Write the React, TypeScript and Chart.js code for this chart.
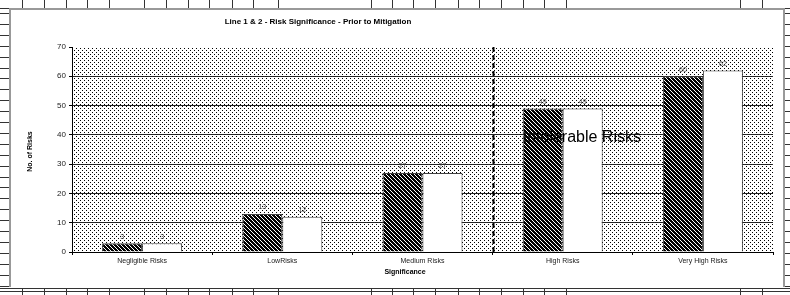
import React, { useEffect, useRef } from "react";
import { Chart, registerables } from "chart.js";

Chart.register(...registerables);

const categories = ["Negligible Risks", "LowRisks", "Medium Risks", "High Risks", "Very High Risks"];
const line1Values = [3, 13, 27, 49, 60];
const line2Values = [3, 12, 27, 49, 62];
const yTicks = [0, 10, 20, 30, 40, 50, 60, 70];
const chartTitle = "Line 1 & 2 - Risk Significance - Prior to Mitigation";
const yTitle = "No. of Risks";
const xTitle = "Significance";
const zoneLabel = "Intolerable Risks";

const sheetCols = [22, 44, 66, 87, 109, 144, 166, 188, 209, 232, 253, 278, 371, 392, 413, 435, 458, 479, 501, 523, 544, 566, 740, 762];

function makePattern(kind: string): CanvasPattern | string {
  const c = document.createElement("canvas");
  c.width = 4;
  c.height = 4;
  const g = c.getContext("2d");
  if (!g) return "#888";
  if (kind === "dots") {
    g.fillStyle = "#ffffff";
    g.fillRect(0, 0, 4, 4);
    g.fillStyle = "#000000";
    g.fillRect(0, 0, 1, 1);
    g.fillRect(2, 2, 1, 1);
  } else {
    g.fillStyle = "#000000";
    g.fillRect(0, 0, 4, 4);
    g.fillStyle = "#ffffff";
    for (let i = 0; i < 4; i++) g.fillRect(i, i, 1, 1);
  }
  const p = g.createPattern(c, "repeat");
  return p || "#888";
}

export default function App() {
  const ref = useRef<HTMLCanvasElement | null>(null);

  useEffect(() => {
    if (!ref.current) return;
    const dots = makePattern("dots");
    const hatch = makePattern("hatch");

    const bgPlugin = {
      id: "sheetBg",
      beforeDraw(chart: any) {
        const ctx = chart.ctx as CanvasRenderingContext2D;
        const W = chart.width;
        const H = chart.height;
        ctx.save();
        ctx.fillStyle = "#ffffff";
        ctx.fillRect(0, 0, W, H);
        ctx.strokeStyle = "#333";
        ctx.lineWidth = 1;
        // top strip
        ctx.beginPath();
        ctx.moveTo(0, 8.5);
        ctx.lineTo(W, 8.5);
        sheetCols.forEach((x) => {
          ctx.moveTo(x + 0.5, 0);
          ctx.lineTo(x + 0.5, 8);
          ctx.moveTo(x + 0.5, 288);
          ctx.lineTo(x + 0.5, H);
        });
        // left & right strips
        for (let y = 13; y < 288; y += 10.9) {
          const yy = Math.round(y) + 0.5;
          ctx.moveTo(0, yy);
          ctx.lineTo(9, yy);
          ctx.moveTo(785, yy);
          ctx.lineTo(W, yy);
        }
        // bottom double line
        ctx.moveTo(0, 288.5);
        ctx.lineTo(W, 288.5);
        ctx.moveTo(0, 291.5);
        ctx.lineTo(W, 291.5);
        ctx.stroke();
        // chart box
        ctx.fillStyle = "#ffffff";
        ctx.fillRect(10, 9, 774, 278);
        ctx.strokeStyle = "#999";
        ctx.lineWidth = 2;
        ctx.beginPath();
        ctx.moveTo(10, 287);
        ctx.lineTo(10, 9);
        ctx.lineTo(784, 9);
        ctx.lineTo(784, 287);
        ctx.stroke();
        // plot area pattern
        const a = chart.chartArea;
        ctx.fillStyle = dots as any;
        ctx.fillRect(a.left, a.top, a.right - a.left, a.bottom - a.top);
        ctx.restore();
      },
      afterDraw(chart: any) {
        const ctx = chart.ctx as CanvasRenderingContext2D;
        const xs = chart.scales.x;
        const ys = chart.scales.y;
        const a = chart.chartArea;
        ctx.save();
        // data labels
        ctx.font = "7px Arial, 'Liberation Sans', sans-serif";
        ctx.fillStyle = "#444";
        ctx.textAlign = "center";
        ctx.textBaseline = "bottom";
        chart.data.datasets.forEach((ds: any, di: number) => {
          const meta = chart.getDatasetMeta(di);
          meta.data.forEach((el: any, i: number) => {
            ctx.fillText(String(ds.data[i]), el.x, el.y - 3);
          });
        });
        // dashed divider between Medium and High
        const xd = Math.round((xs.getPixelForValue(2) + xs.getPixelForValue(3)) / 2) + 0.5;
        ctx.strokeStyle = "#000";
        ctx.lineWidth = 2;
        ctx.setLineDash([5, 3]);
        ctx.beginPath();
        ctx.moveTo(xd, a.top);
        ctx.lineTo(xd, a.bottom);
        ctx.stroke();
        ctx.setLineDash([]);
        // zone label
        ctx.font = "16px Arial, 'Liberation Sans', sans-serif";
        ctx.fillStyle = "#000";
        ctx.textAlign = "left";
        ctx.textBaseline = "middle";
        ctx.fillText(zoneLabel, xs.getPixelForValue(3) - 40, ys.getPixelForValue(39));
        // titles
        ctx.font = "bold 8px Arial, 'Liberation Sans', sans-serif";
        ctx.textAlign = "center";
        ctx.fillText(chartTitle, 318, 22);
        ctx.font = "bold 7px Arial, 'Liberation Sans', sans-serif";
        ctx.fillText(xTitle, 405, 272);
        ctx.translate(30, (a.top + a.bottom) / 2 + 2);
        ctx.rotate(-Math.PI / 2);
        ctx.fillText(yTitle, 0, 0);
        ctx.restore();
      },
    };

    const chart = new Chart(ref.current, {
      type: "bar",
      data: {
        labels: categories,
        datasets: [
          {
            label: "Line 1",
            data: line1Values,
            backgroundColor: hatch as any,
            borderColor: "#404040",
            borderWidth: 1,
          },
          {
            label: "Line 2",
            data: line2Values,
            backgroundColor: "#ffffff",
            borderColor: "#404040",
            borderWidth: 1,
          },
        ],
      },
      options: {
        animation: false,
        responsive: false,
        maintainAspectRatio: false,
        devicePixelRatio: 1,
        categoryPercentage: 0.5706,
        barPercentage: 1.0,
        layout: { padding: { left: 0, right: 17, top: 47, bottom: 0 } },
        plugins: {
          legend: { display: false },
          tooltip: { enabled: false },
          title: { display: false },
        },
        scales: {
          x: {
            afterFit: (s: any) => {
              s.height = 43;
            },
            grid: {
              display: true,
              offset: true,
              drawOnChartArea: false,
              color: "#000",
              tickLength: 3,
            },
            border: { color: "#000", width: 1 },
            ticks: {
              color: "#222",
              padding: 2,
              font: { family: "Arial, 'Liberation Sans', sans-serif", size: 7 },
              maxRotation: 0,
              autoSkip: false,
            },
          },
          y: {
            min: 0,
            max: 70,
            afterFit: (s: any) => {
              s.width = 72;
            },
            afterBuildTicks: (s: any) => {
              s.ticks = yTicks.map((v) => ({ value: v }));
            },
            grid: {
              color: (c: any) => (c.tick && c.tick.value === 70 ? "rgba(0,0,0,0)" : "#222"),
              tickColor: "#000",
              tickLength: 3,
              lineWidth: 1,
            },
            border: { color: "#000", width: 1 },
            ticks: {
              stepSize: 10,
              color: "#222",
              padding: 3,
              font: { family: "Arial, 'Liberation Sans', sans-serif", size: 8 },
            },
          },
        },
      },
      plugins: [bgPlugin],
    });
    return () => chart.destroy();
  }, []);

  return (
    <div style={{ position: "absolute", left: 0, top: 0, width: 790, height: 295 }}>
      <canvas ref={ref} width={790} height={295} style={{ display: "block", width: 790, height: 295 }} />
    </div>
  );
}
